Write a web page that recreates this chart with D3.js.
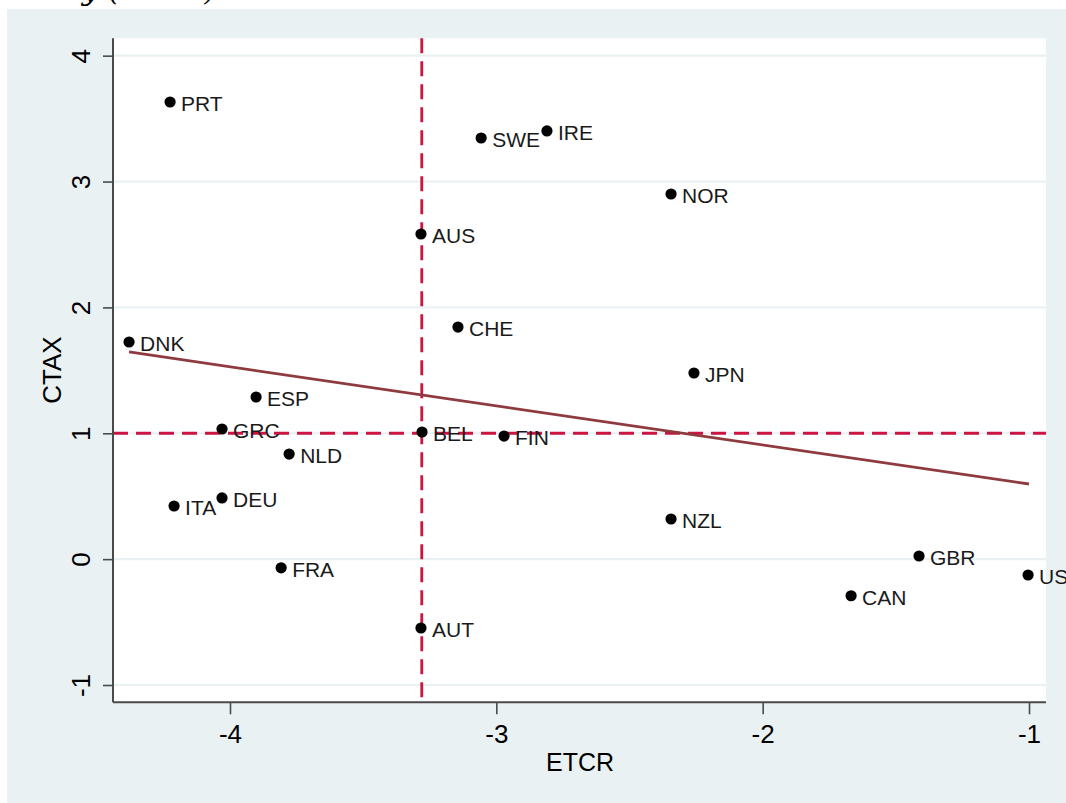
<!DOCTYPE html>
<html>
<head>
<meta charset="utf-8">
<script src="https://cdn.jsdelivr.net/npm/d3@7"></script>
<style>
html,body{margin:0;padding:0;background:#fff;}
svg{display:block;}
</style>
</head>
<body>
<script>
// ---- data ----
const countries = ["PRT","SWE","IRE","NOR","AUS","CHE","DNK","JPN","ESP","GRC","BEL","FIN","NLD","DEU","ITA","NZL","GBR","USA","FRA","CAN","AUT"];
const etcr = [-4.225,-3.057,-2.810,-2.344,-3.283,-3.144,-4.379,-2.258,-3.902,-4.030,-3.279,-2.971,-3.778,-4.030,-4.210,-2.344,-1.413,-1.0035,-3.808,-1.668,-3.283];
const ctax = [3.632,3.346,3.402,2.901,2.583,1.844,1.725,1.479,1.288,1.034,1.010,0.978,0.835,0.486,0.422,0.319,0.025,-0.126,-0.069,-0.291,-0.547];
const xTicks = [-4,-3,-2,-1];
const yTicks = [-1,0,1,2,3,4];
const refX = -3.28;   // median ETCR reference line
const refY = 1.0;     // reference CTAX line
const fitX = [-4.379, -1.0];
const fitY = [1.646, 0.597];

(function(){
const W = 1066, H = 803;
const svg = d3.select("body").append("svg").attr("width", W).attr("height", H);

// partial clipped title at top
svg.append("text").attr("x", 82).attr("y", 0)
  .attr("font-family", "'DejaVu Serif', 'Liberation Serif', serif")
  .attr("font-style", "italic").attr("font-size", 30).attr("fill", "#000")
  .text("y (CTAX)");

// outer panel
svg.append("rect").attr("x", 7).attr("y", 9).attr("width", W - 7).attr("height", H - 9).attr("fill", "#eaf1f3");

const pL = 113, pR = 1046, pT = 38.3, pB = 702.3;
svg.append("rect").attr("x", pL).attr("y", pT).attr("width", pR - pL).attr("height", pB - pT).attr("fill", "#fff");

const x = d3.scaleLinear().domain([-4.4393, -0.9362]).range([pL, pR]);
const y = d3.scaleLinear().domain([-1.1374, 4.138]).range([pB, pT]);

// gridlines
svg.append("g").selectAll("line").data(yTicks).join("line")
  .attr("x1", pL).attr("x2", pR)
  .attr("y1", d => y(d)).attr("y2", d => y(d))
  .attr("stroke", "#eaf1f3").attr("stroke-width", 2.2);

// reference lines
svg.append("line").attr("x1", x(refX)).attr("x2", x(refX)).attr("y1", pT).attr("y2", pB)
  .attr("stroke", "#cc1443").attr("stroke-width", 2.8).attr("stroke-dasharray", "15,8");
svg.append("line").attr("x1", pL).attr("x2", pR).attr("y1", y(refY)).attr("y2", y(refY))
  .attr("stroke", "#cc1443").attr("stroke-width", 2.8).attr("stroke-dasharray", "15,8");

// fit line
svg.append("line").attr("x1", x(fitX[0])).attr("y1", y(fitY[0])).attr("x2", x(fitX[1])).attr("y2", y(fitY[1]))
  .attr("stroke", "#8f3a3e").attr("stroke-width", 2.8);

// axes
const font = "'Liberation Sans', Arial, sans-serif";
const xAxis = svg.append("g").attr("transform", `translate(0,${pB})`)
  .call(d3.axisBottom(x).tickValues(xTicks).tickSize(12).tickPadding(6).tickFormat(d3.format("d")));
xAxis.select(".domain").attr("stroke", "#4a4a4a").attr("stroke-width", 2).attr("d", `M${pL},0H${pR}`);
xAxis.selectAll(".tick line").attr("stroke", "#4a4a4a").attr("stroke-width", 1.6);
xAxis.selectAll(".tick text").attr("font-family", font).attr("font-size", 26).attr("fill", "#000")
  .attr("dy", null).attr("y", 41).text(d => d < 0 ? "-" + Math.abs(d) : d);

const yAxis = svg.append("g").attr("transform", `translate(${pL},0)`)
  .call(d3.axisLeft(y).tickValues(yTicks).tickSize(10).tickFormat(d3.format("d")));
yAxis.select(".domain").attr("stroke", "#4a4a4a").attr("stroke-width", 2).attr("d", `M0,${pT}V${pB}`);
yAxis.selectAll(".tick line").attr("stroke", "#4a4a4a").attr("stroke-width", 1.6);
yAxis.selectAll(".tick text").attr("font-family", font).attr("font-size", 26).attr("fill", "#000")
  .attr("x", null).attr("dy", null).attr("text-anchor", "middle")
  .attr("transform", "translate(-23,0) rotate(-90)")
  .text(d => d < 0 ? "-" + Math.abs(d) : d);

// axis titles
svg.append("text").attr("x", 580).attr("y", 771).attr("text-anchor", "middle")
  .attr("font-family", font).attr("font-size", 25).attr("fill", "#000").text("ETCR");
svg.append("text").attr("transform", "translate(61,370) rotate(-90)").attr("text-anchor", "middle")
  .attr("font-family", font).attr("font-size", 26).attr("fill", "#000").text("CTAX");

// points
const pts = countries.map((c, i) => ({c, x: etcr[i], y: ctax[i]}));
svg.append("g").selectAll("circle").data(pts).join("circle")
  .attr("cx", d => x(d.x)).attr("cy", d => y(d.y)).attr("r", 5.6).attr("fill", "#000");
svg.append("g").selectAll("text").data(pts).join("text")
  .attr("x", d => x(d.x) + 11).attr("y", d => y(d.y) + 9)
  .attr("font-family", font).attr("font-size", 21).attr("fill", "#1a1a1a")
  .text(d => d.c);
})();
</script>
</body>
</html>
